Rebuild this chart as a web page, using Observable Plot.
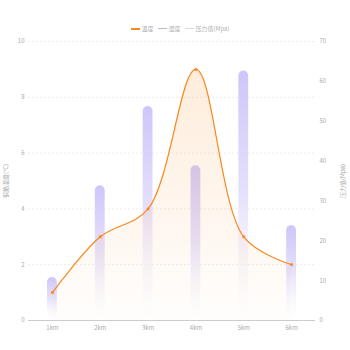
<!DOCTYPE html>
<html><head><meta charset="utf-8">
<script src="https://cdn.jsdelivr.net/npm/d3@7"></script>
<script src="https://cdn.jsdelivr.net/npm/@observablehq/plot@0.6"></script>
<style>
body{margin:0;background:#fff;font-family:"Noto Sans CJK SC","Noto Sans",sans-serif;}
#wrap{position:relative;width:350px;height:350px;}
#legend{position:absolute;top:24px;left:0;width:350px;display:flex;justify-content:center;padding-left:10px;box-sizing:border-box;gap:4px;font-size:6px;color:#b0b0b0;align-items:center;}
.it{display:flex;align-items:center;gap:2px;}
.sw{width:9px;height:2px;display:inline-block;}
</style></head>
<body><div id="wrap"><div id="legend"></div><div id="chart"></div></div>
<script>
const categories = ["1km","2km","3km","4km","5km","6km"];
const temperature = [1, 3, 4, 9, 3, 2];
const pressure = [10.8, 33.8, 53.7, 38.8, 62.6, 23.8];
const leftTicks = [0, 2, 4, 6, 8, 10];
const rightTicks = [0, 10, 20, 30, 40, 50, 60, 70];
const legendItems = [
  {name:"温度", color:"#f7891f", h:2},
  {name:"湿度", color:"#bbb", h:1.5},
  {name:"压力值(Mpa)", color:"#d8d2fb", h:1.5}
];

const data = categories.map((c,i)=>({i, c, t: temperature[i], p: pressure[i]}));
const ratio = 10/70;

const defs = () => {
  const g = d3.create("svg:defs");
  const b = g.append("linearGradient").attr("id","barGrad").attr("x1",0).attr("y1",0).attr("x2",0).attr("y2",1);
  b.append("stop").attr("offset","0").attr("stop-color","#cec6fa");
  b.append("stop").attr("offset","0.5").attr("stop-color","#e6e1fc");
  b.append("stop").attr("offset","1").attr("stop-color","#ffffff").attr("stop-opacity",0.3);
  const a = g.append("linearGradient").attr("id","areaGrad").attr("x1",0).attr("y1",0).attr("x2",0).attr("y2",1);
  a.append("stop").attr("offset","0").attr("stop-color","#fbb36b").attr("stop-opacity",0.24);
  a.append("stop").attr("offset","1").attr("stop-color","#fbb36b").attr("stop-opacity",0.02);
  return g.node();
};

const chart = Plot.plot({
  width: 350, height: 350,
  marginLeft: 28, marginRight: 35, marginTop: 41, marginBottom: 30,
  style: {fontSize: "6px", color: "#aaa", fontFamily: "'Noto Sans CJK SC','Noto Sans',sans-serif", background: "transparent"},
  x: {type: "linear", domain: [-0.5, 5.5]},
  y: {domain: [0, 10]},
  marks: [
    defs,
    Plot.gridY([2,4,6,8,10], {stroke: "#ececec", strokeOpacity: 1, strokeDasharray: "2,2"}),
    Plot.rectY(data, {x1: d => d.i - 0.5, x2: d => d.i + 0.5, y1: 0, y2: d => d.p * ratio, fill: "url(#barGrad)", insetLeft: 19, insetRight: 19, rx: 5}),
    Plot.areaY(data, {x: "i", y: "t", curve: "catmull-rom", fill: "url(#areaGrad)"}),
    Plot.lineY(data, {x: "i", y: "t", curve: "catmull-rom", stroke: "#f7891f", strokeWidth: 1.2}),
    Plot.dot(data, {x: "i", y: "t", symbol: "square", r: 1.2, fill: "#f7891f", stroke: "#f7891f", strokeWidth: 0.5}),
    Plot.ruleY([0], {stroke: "#ccc"}),
    Plot.axisX({ticks: d3.range(6), tickFormat: i => categories[i], tickSize: 0, tickPadding: 5, label: null}),
    Plot.axisY({ticks: leftTicks, tickSize: 0, tickPadding: 4, label: "钢筋温度(°C)", labelAnchor: "center", labelArrow: "none", labelOffset: 25}),
    Plot.axisY({anchor: "right", ticks: rightTicks.map(v => v * ratio), tickFormat: d => Math.round(d / ratio), tickSize: 0, tickPadding: 4, label: "压力值(Mpa)", labelAnchor: "center", labelArrow: "none", labelOffset: 29})
  ]
});
document.getElementById("chart").appendChild(chart);

const lg = document.getElementById("legend");
legendItems.forEach(it => {
  const d = document.createElement("div"); d.className = "it";
  const s = document.createElement("span"); s.className = "sw"; s.style.background = it.color; s.style.height = it.h + "px";
  const t = document.createElement("span"); t.textContent = it.name;
  d.appendChild(s); d.appendChild(t); lg.appendChild(d);
});
</script></body></html>
